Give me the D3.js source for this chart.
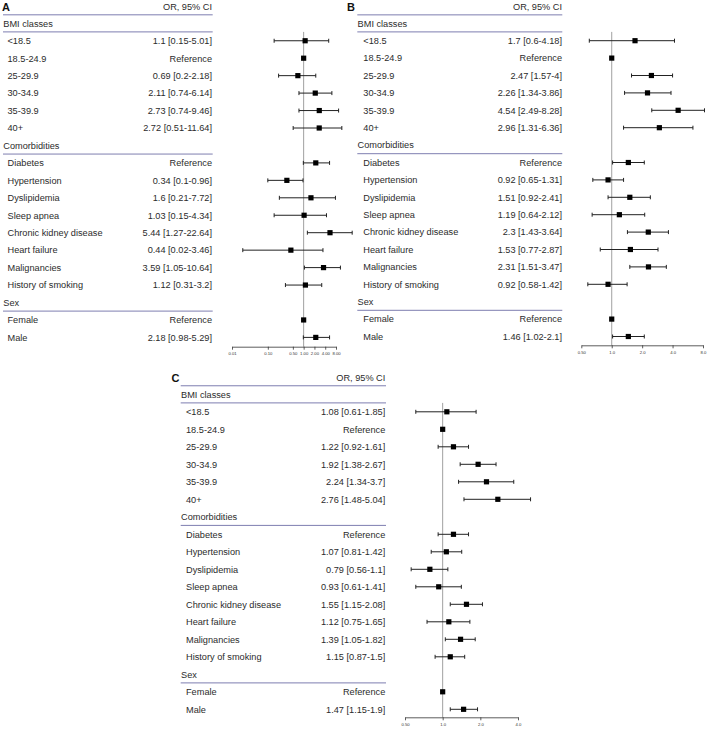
<!DOCTYPE html>
<html><head><meta charset="utf-8">
<script src="https://cdn.jsdelivr.net/npm/d3@7"></script>
<style>
html,body{margin:0;padding:0;background:#fff;}
svg{display:block;font-family:"Liberation Sans",Arial,sans-serif;}
</style></head>
<body>
<svg id="chart" width="709" height="729"></svg>
<script>
// ---------- data ----------
const groupNames = ["BMI classes", "Comorbidities", "Sex"];
const rowLabels = ["<18.5","18.5-24.9","25-29.9","30-34.9","35-39.9","40+",
  "Diabetes","Hypertension","Dyslipidemia","Sleep apnea","Chronic kidney disease","Heart failure","Malignancies","History of smoking",
  "Female","Male"];
const rowGroup = [0,0,0,0,0,0, 1,1,1,1,1,1,1,1, 2,2];

const ciTextA = ["1.1 [0.15-5.01]","Reference","0.69 [0.2-2.18]","2.11 [0.74-6.14]","2.73 [0.74-9.46]","2.72 [0.51-11.64]",
  "Reference","0.34 [0.1-0.96]","1.6 [0.21-7.72]","1.03 [0.15-4.34]","5.44 [1.27-22.64]","0.44 [0.02-3.46]","3.59 [1.05-10.64]","1.12 [0.31-3.2]",
  "Reference","2.18 [0.98-5.29]"];
const orA = [1.1,1,0.69,2.11,2.73,2.72, 2.18,0.34,1.6,1.03,5.44,0.44,3.59,1.12, 1,2.18];
const loA = [0.15,null,0.2,0.74,0.74,0.51, 0.98,0.1,0.21,0.15,1.27,0.02,1.05,0.31, null,0.98];
const hiA = [5.01,null,2.18,6.14,9.46,11.64, 5.29,0.96,7.72,4.34,22.64,3.46,10.64,3.2, null,5.29];
const ticksA = [0.01,0.1,0.5,1,2,4,8];
const tickLabelsA = ["0.01","0.10","0.50","1.00","2.00","4.00","8.00"];

const ciTextB = ["1.7 [0.6-4.18]","Reference","2.47 [1.57-4]","2.26 [1.34-3.86]","4.54 [2.49-8.28]","2.96 [1.31-6.36]",
  "Reference","0.92 [0.65-1.31]","1.51 [0.92-2.41]","1.19 [0.64-2.12]","2.3 [1.43-3.64]","1.53 [0.77-2.87]","2.31 [1.51-3.47]","0.92 [0.58-1.42]",
  "Reference","1.46 [1.02-2.1]"];
const orB = [1.7,1,2.47,2.26,4.54,2.96, 1.46,0.92,1.51,1.19,2.3,1.53,2.31,0.92, 1,1.46];
const loB = [0.6,null,1.57,1.34,2.49,1.31, 1.02,0.65,0.92,0.64,1.43,0.77,1.51,0.58, null,1.02];
const hiB = [4.18,null,4,3.86,8.28,6.36, 2.1,1.31,2.41,2.12,3.64,2.87,3.47,1.42, null,2.1];
const ticksB = [0.5,1,2,4,8];
const tickLabelsB = ["0.50","1.0","2.0","4.0","8.0"];

const ciTextC = ["1.08 [0.61-1.85]","Reference","1.22 [0.92-1.61]","1.92 [1.38-2.67]","2.24 [1.34-3.7]","2.76 [1.48-5.04]",
  "Reference","1.07 [0.81-1.42]","0.79 [0.56-1.1]","0.93 [0.61-1.41]","1.55 [1.15-2.08]","1.12 [0.75-1.65]","1.39 [1.05-1.82]","1.15 [0.87-1.5]",
  "Reference","1.47 [1.15-1.9]"];
const orC = [1.08,1,1.22,1.92,2.24,2.76, 1.22,1.07,0.79,0.93,1.55,1.12,1.39,1.15, 1,1.47];
const loC = [0.61,null,0.92,1.38,1.34,1.48, 0.92,0.81,0.56,0.61,1.15,0.75,1.05,0.87, null,1.15];
const hiC = [1.85,null,1.61,2.67,3.7,5.04, 1.61,1.42,1.1,1.41,2.08,1.65,1.82,1.5, null,1.9];
const ticksC = [0.5,1,2,4];
const tickLabelsC = ["0.50","1.0","2.0","4.0"];

// ---------- layout ----------
const panels = [
  {tag:"A", tagX:2, x0:3, x1:212.7, indent:4.5, textRight:212, row0:23.3, step:17.45, axisY:346.7,
   domain:[0.01,8], range:[232,336], ticks:ticksA, tickLabels:tickLabelsA, txt:ciTextA, or:orA, lo:loA, hi:hiA},
  {tag:"B", tagX:347, x0:357.3, x1:562.3, indent:6, textRight:562, row0:23.3, step:17.4, axisY:345.3,
   domain:[0.5,8], range:[581.3,703], ticks:ticksB, tickLabels:tickLabelsB, txt:ciTextB, or:orB, lo:loB, hi:hiB},
  {tag:"C", tagX:171.5, x0:180.7, x1:386, indent:5.3, textRight:385.3, row0:394.3, step:17.5, axisY:717.3,
   domain:[0.5,4], range:[405,518], ticks:ticksC, tickLabels:tickLabelsC, txt:ciTextC, or:orC, lo:loC, hi:hiC}
];

const svg = d3.select("#chart");
const ruleColor = "#7e7eb0";
const textColor = "#2b2b2b";
const fs = 9.2;

panels.forEach(p => {
  const g = svg.append("g");
  const x = d3.scaleLog().domain(p.domain).range(p.range);

  // build row y positions: group headers + items
  const rows = [];
  let r = 0;
  let lastGroup = -1;
  rowLabels.forEach((lab, i) => {
    if (rowGroup[i] !== lastGroup) {
      rows.push({type:"group", label:groupNames[rowGroup[i]], y:p.row0 + r*p.step});
      r++;
      lastGroup = rowGroup[i];
    }
    rows.push({type:"item", i:i, label:lab, y:p.row0 + r*p.step});
    r++;
  });
  const headerY = p.row0 - p.step*0.95;

  // panel tag + header
  g.append("text").attr("x", p.tagX).attr("y", headerY).attr("dy","0.36em")
    .attr("font-weight","bold").attr("font-size", 11).attr("fill","#111").text(p.tag);
  g.append("text").attr("x", p.textRight).attr("y", headerY).attr("dy","0.36em")
    .attr("text-anchor","end").attr("font-size", fs).attr("fill", textColor).text("OR, 95% CI");
  g.append("line").attr("x1", p.x0).attr("x2", p.x1)
    .attr("y1", headerY + 8.1).attr("y2", headerY + 8.1)
    .attr("stroke", ruleColor).attr("stroke-width", 1);

  // rows text
  rows.forEach(d => {
    if (d.type === "group") {
      g.append("text").attr("x", p.x0 + 0.3).attr("y", d.y).attr("dy","0.36em")
        .attr("font-size", fs).attr("fill", textColor).text(d.label);
      g.append("line").attr("x1", p.x0).attr("x2", p.x1)
        .attr("y1", d.y + 8.6).attr("y2", d.y + 8.6)
        .attr("stroke", ruleColor).attr("stroke-width", 1);
    } else {
      g.append("text").attr("x", p.x0 + p.indent).attr("y", d.y).attr("dy","0.36em")
        .attr("font-size", fs).attr("fill", textColor).text(d.label);
      g.append("text").attr("x", p.textRight).attr("y", d.y).attr("dy","0.36em")
        .attr("text-anchor","end").attr("font-size", fs).attr("fill", textColor).text(p.txt[d.i]);
    }
  });

  // reference line at OR = 1
  const topY = rows[0].y + 8.6;
  g.append("line").attr("x1", x(1)).attr("x2", x(1)).attr("y1", topY).attr("y2", p.axisY)
    .attr("stroke", "#a0a0a0").attr("stroke-width", 1);

  // axis
  const axis = d3.axisBottom(x).tickValues(p.ticks)
    .tickFormat((v, k) => p.tickLabels[k]).tickSize(3).tickSizeOuter(0);
  const ax = g.append("g").attr("transform", `translate(0,${p.axisY})`).call(axis);
  ax.select(".domain").attr("stroke", "#333").attr("stroke-width", 0.8);
  ax.selectAll(".tick line").attr("stroke", "#333").attr("stroke-width", 0.8);
  ax.selectAll(".tick text").attr("font-size", 4.2).attr("fill", "#333")
    .attr("font-family", "'Liberation Sans',Arial,sans-serif").attr("y", 5.5);

  // error bars + points
  const items = rows.filter(d => d.type === "item");
  items.forEach(d => {
    const i = d.i;
    if (p.lo[i] != null && p.hi[i] != null) {
      const xl = x(p.lo[i]), xh = x(p.hi[i]);
      g.append("line").attr("x1", xl).attr("x2", xh).attr("y1", d.y).attr("y2", d.y)
        .attr("stroke", "#222").attr("stroke-width", 1);
      [xl, xh].forEach(cx => {
        g.append("line").attr("x1", cx).attr("x2", cx).attr("y1", d.y - 2).attr("y2", d.y + 2)
          .attr("stroke", "#222").attr("stroke-width", 1);
      });
    }
    const s = 5.2;
    g.append("rect").attr("x", x(p.or[i]) - s/2).attr("y", d.y - s/2)
      .attr("width", s).attr("height", s).attr("fill", "#000");
  });
});
</script>
</body></html>
